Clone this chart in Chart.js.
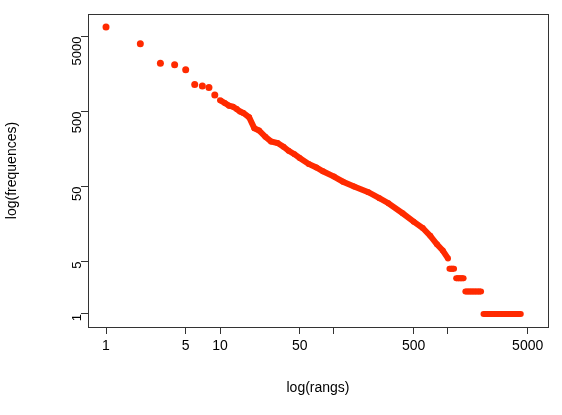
<!DOCTYPE html>
<html><head><meta charset="utf-8">
<script src="https://cdn.jsdelivr.net/npm/chart.js@4"></script>
<style>html,body{margin:0;background:#fff}#w{width:562px;height:415px}</style>
</head><body><div id="w"><canvas id="c"></canvas></div>
<script>
const headRanks=[1,2,3,4,5,6,7,8,9];
const headFreqs=[6700,4000,2200,2100,1800,1150,1100,1050,830];
const tailRanks=[10,11,12,13,14,15,16,18,20,22,25,28,32,36,40,45,50,60,70,80,100,120,150,200,250,300,400,500,600,700,800,900,1000,
 1010,1030,1080,1130,1150,1180,1240,1300,1370,1400,1420,1500,1580,1660,1750,1850,1950,2000,2050,2200,2350,2500,2700,2900,3100,3350,3600,3850,4100,4350];
const tailFreqs=[710,650,600,580,540,500,480,420,300,280,230,200,190,170,150,135,120,100,90,80,68,58,50,42,35,30,22,17,14,11,8.5,7,5.5,
 null,4,4,4,null,3,3,3,3,null,2,2,2,2,2,2,2,null,1,1,1,1,1,1,1,1,1,1,1,1];
const xTicks=[1,5,10,50,100,500,1000,5000];
const xLabels=[1,5,10,50,500,5000];
const yTicks=[1,5,50,500,5000];
const red='#ff2a00';
const box={id:'box',afterDraw(c){const a=c.chartArea,x=c.ctx;x.save();x.strokeStyle='#333';x.lineWidth=1;x.strokeRect(a.left+0.5,a.top+0.5,a.right-a.left,a.bottom-a.top);x.restore();}};
new Chart(document.getElementById('c'),{type:'scatter',
data:{datasets:[
 {data:headRanks.map((r,i)=>({x:r,y:headFreqs[i]})),backgroundColor:red,borderColor:red,pointRadius:3.5,pointBorderWidth:0},
 {data:tailRanks.map((r,i)=>({x:r,y:tailFreqs[i]})),showLine:true,spanGaps:false,borderWidth:6,borderColor:red,backgroundColor:red,pointRadius:3,pointBorderWidth:0}
]},
options:{responsive:true,maintainAspectRatio:false,animation:false,
 layout:{padding:{top:14,right:14,left:0,bottom:14}},
 plugins:{legend:{display:false},tooltip:{enabled:false}},
 scales:{
  x:{type:'logarithmic',min:0.695,max:7540,grid:{display:true,drawOnChartArea:false,drawTicks:true,tickLength:7,color:'#333'},border:{display:false},
   afterBuildTicks:s=>{s.ticks=xTicks.map(v=>({value:v}))},
   afterFit:s=>{s.height=74},
   ticks:{color:'#000',font:{family:'Liberation Sans',size:14},maxRotation:0,autoSkip:false,padding:4,callback:v=>xLabels.includes(v)?String(v):''},
   title:{display:true,text:'log(rangs)',color:'#000',font:{family:'Liberation Sans',size:14},padding:{top:12}}},
  y:{type:'logarithmic',min:0.67,max:10000,grid:{display:true,drawOnChartArea:false,drawTicks:true,tickLength:7,color:'#333'},border:{display:false},
   afterBuildTicks:s=>{s.ticks=yTicks.map(v=>({value:v}))},
   afterFit:s=>{s.width=88},
   ticks:{color:'#000',font:{family:'Liberation Sans',size:13},minRotation:90,maxRotation:90,autoSkip:false,padding:4,callback:v=>String(v)},
   title:{display:true,text:'log(frequences)',color:'#000',font:{family:'Liberation Sans',size:14},padding:{bottom:4}}}
 }},
plugins:[box]});
</script></body></html>
